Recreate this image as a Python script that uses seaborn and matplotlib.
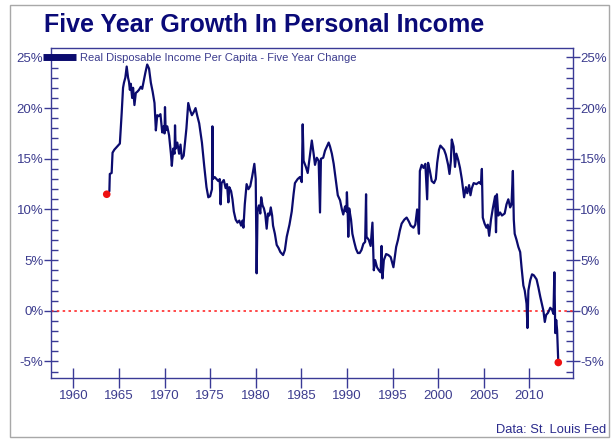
import numpy as np
import pandas as pd
from matplotlib import pyplot as plt
from matplotlib.patches import Rectangle
from matplotlib.lines import Line2D
from matplotlib.ticker import MultipleLocator, FuncFormatter
import seaborn as sns

# 数据：五年变化率（%）
years = [
    1963.66, 1963.95, 1964.0, 1964.2, 1964.3, 1964.5, 1964.8, 1965.1, 1965.3, 1965.45,
    1965.55, 1965.7, 1965.85, 1966.0, 1966.1, 1966.2, 1966.3, 1966.45, 1966.55, 1966.7,
    1966.85, 1967.0, 1967.2, 1967.4, 1967.55, 1967.7, 1967.9, 1968.1, 1968.3, 1968.5,
    1968.7, 1968.9, 1969.05, 1969.2, 1969.35, 1969.55, 1969.75, 1969.9, 1970.0, 1970.05,
    1970.12, 1970.3, 1970.5, 1970.7, 1970.8, 1970.95, 1971.1, 1971.15, 1971.22, 1971.4,
    1971.6, 1971.75, 1971.9, 1972.1, 1972.4, 1972.6, 1972.8, 1973.0, 1973.2, 1973.4,
    1973.6, 1973.8, 1974.1, 1974.35, 1974.6, 1974.8, 1975.0, 1975.2, 1975.25, 1975.3,
    1975.5, 1975.7, 1975.9, 1976.05, 1976.15, 1976.25, 1976.5, 1976.7, 1976.85, 1977.0,
    1977.1, 1977.3, 1977.45, 1977.6, 1977.8, 1978.0, 1978.2, 1978.4, 1978.55, 1978.65,
    1978.8, 1979.0, 1979.2, 1979.4, 1979.6, 1979.85, 1980.0, 1980.1, 1980.2, 1980.35,
    1980.5, 1980.6, 1980.75, 1980.9, 1981.05, 1981.2, 1981.35, 1981.5, 1981.65, 1981.8,
    1981.9, 1982.1, 1982.3, 1982.5, 1982.7, 1983.0, 1983.2, 1983.4, 1983.7, 1983.95,
    1984.15, 1984.3, 1984.6, 1984.85, 1985.05, 1985.15, 1985.25, 1985.5, 1985.7, 1985.9,
    1986.15, 1986.35, 1986.5, 1986.7, 1986.9, 1987.05, 1987.15, 1987.4, 1987.6, 1987.85,
    1988.0, 1988.15, 1988.35, 1988.55, 1988.8, 1989.0, 1989.25, 1989.45, 1989.6, 1989.8,
    1989.95, 1990.0, 1990.1, 1990.15, 1990.25, 1990.45, 1990.6, 1990.8, 1991.0, 1991.2,
    1991.4, 1991.6, 1991.8, 1992.0, 1992.1, 1992.15, 1992.4, 1992.6, 1992.8, 1992.95,
    1993.1, 1993.3, 1993.5, 1993.7, 1993.8, 1993.9, 1994.05, 1994.3, 1994.55, 1994.8,
    1995.1, 1995.4, 1995.6, 1995.8, 1996.0, 1996.3, 1996.55, 1996.8, 1997.0, 1997.3,
    1997.5, 1997.7, 1997.9, 1998.0, 1998.2, 1998.4, 1998.6, 1998.8, 1998.9, 1999.1,
    1999.3, 1999.55, 1999.75, 1999.9, 2000.1, 2000.25, 2000.45, 2000.65, 2000.85, 2001.1,
    2001.25, 2001.4, 2001.5, 2001.7, 2001.85, 2002.0, 2002.2, 2002.4, 2002.6, 2002.85,
    2003.05, 2003.2, 2003.4, 2003.55, 2003.7, 2003.9, 2004.2, 2004.5, 2004.7, 2004.8,
    2004.9, 2005.1, 2005.3, 2005.45, 2005.6, 2005.8, 2006.0, 2006.25, 2006.35, 2006.45,
    2006.6, 2006.8, 2007.0, 2007.3, 2007.5, 2007.7, 2007.9, 2008.05, 2008.2, 2008.3,
    2008.4, 2008.6, 2008.8, 2009.0, 2009.15, 2009.35, 2009.5, 2009.7, 2009.8, 2009.9,
    2010.1, 2010.3, 2010.5, 2010.8, 2011.0, 2011.2, 2011.4, 2011.55, 2011.7, 2011.85,
    2012.05, 2012.3, 2012.5, 2012.65, 2012.75, 2012.85, 2012.95, 2013.05, 2013.18,
]
values = [
    11.5, 11.8, 13.5, 13.6, 15.6, 15.9, 16.2, 16.5, 19.5, 22.0,
    22.5, 23.0, 24.1, 23.0, 22.6, 21.8, 22.4, 21.0, 22.0, 20.3,
    21.5, 21.6, 21.8, 22.1, 21.9, 22.6, 23.5, 24.3, 23.9, 22.5,
    21.6, 20.5, 17.8, 19.3, 19.2, 19.4, 17.6, 18.2, 17.5, 20.1,
    17.8, 18.2, 17.3, 15.5, 14.3, 16.0, 15.5, 18.3, 16.0, 16.6,
    15.5, 16.4, 15.0, 15.3, 18.0, 20.5, 19.8, 19.3, 19.6, 20.0,
    19.2, 18.5, 16.6, 14.3, 12.2, 11.2, 11.3, 12.0, 18.2, 13.0,
    13.2, 13.0, 12.8, 13.0, 10.5, 12.6, 12.9, 12.1, 12.5, 10.7,
    12.2, 11.8, 11.0, 9.8, 9.0, 8.7, 8.9, 8.4, 8.9, 8.2,
    10.5, 12.5, 12.0, 12.3, 13.2, 14.5, 13.0, 3.7, 9.9, 10.4,
    9.6, 11.2, 10.4, 10.1, 9.5, 8.1, 9.6, 9.4, 10.2, 9.4,
    8.4, 7.6, 6.5, 6.2, 5.8, 5.5, 6.0, 7.3, 8.5, 9.8,
    11.5, 12.6, 13.0, 13.2, 12.7, 18.4, 14.8, 14.2, 13.6, 15.0,
    16.8, 15.5, 14.4, 15.1, 14.8, 9.7, 15.0, 15.1, 15.8, 16.3,
    16.6, 16.2, 15.5, 14.5, 12.8, 11.4, 10.9, 10.0, 9.5, 10.3,
    9.8, 11.7, 9.2, 7.3, 10.1, 9.0, 7.6, 6.8, 6.1, 5.7,
    5.7, 6.0, 6.6, 6.8, 11.5, 7.3, 7.0, 6.4, 8.7, 4.0,
    5.0, 4.3, 4.0, 3.8, 6.4, 3.2, 5.0, 5.6, 5.5, 5.3,
    4.3, 6.3, 7.0, 7.9, 8.6, 9.0, 9.2, 8.8, 8.4, 8.2,
    8.5, 10.0, 7.6, 13.8, 14.4, 14.1, 14.5, 11.0, 14.6, 13.8,
    12.8, 12.6, 13.0, 14.6, 15.9, 16.3, 16.1, 15.9, 15.4, 14.4,
    13.5, 14.8, 16.9, 16.2, 14.2, 15.5, 14.9, 14.1, 13.0, 11.2,
    12.2, 11.6, 12.4, 11.4, 12.1, 12.6, 12.5, 12.7, 12.5, 14.0,
    9.2, 8.6, 8.2, 8.5, 7.4, 9.0, 10.1, 11.3, 7.75, 11.5,
    9.4, 9.7, 9.4, 9.6, 10.5, 11.0, 10.2, 10.5, 13.8, 9.0,
    7.6, 7.0, 6.3, 5.8, 4.3, 2.5, 2.0, 0.7, -1.7, 2.0,
    3.0, 3.6, 3.5, 3.1, 2.3, 1.4, 0.6, 0.0, -1.1, -0.4,
    -0.2, 0.3, 0.1, -0.3, 3.8, -2.2, -0.9, -1.9, -5.1,
]

x_ticks = [1960, 1965, 1970, 1975, 1980, 1985, 1990, 1995, 2000, 2005, 2010]
y_ticks = [-5, 0, 5, 10, 15, 20, 25]

navy = '#0b0b6e'
axis_color = '#3a3a96'
label_color = '#3c3c8e'

df = pd.DataFrame({'year': years, 'value': values})

sns.set_style('white')
plt.rcParams['font.family'] = ['Liberation Sans', 'DejaVu Sans']

fig = plt.figure(figsize=(6.16, 4.43), dpi=100)
ax = fig.add_axes([0.0828, 0.1474, 0.8469, 0.7436])

# 零线（红色点线）
ax.axhline(0, color='#ff2a2a', linestyle=(0, (1.5, 2.0)), linewidth=1.2, zorder=1)

# 主曲线
sns.lineplot(data=df, x='year', y='value', color=navy, linewidth=1.6, ax=ax, legend=False, zorder=2)

# 起止红点
ends = df.iloc[[0, -1]]
sns.scatterplot(data=ends, x='year', y='value', color='#ee1111', s=30, edgecolor='none', ax=ax, zorder=3, legend=False)

ax.set_xlim(1957.55, 2014.76)
ax.set_ylim(-6.6, 25.9)
ax.set_xticks(x_ticks)
ax.set_yticks(y_ticks)
ax.yaxis.set_minor_locator(MultipleLocator(1))
ax.yaxis.set_major_formatter(FuncFormatter(lambda v, _: f'{v:.0f}%'))
ax.set_xlabel('')
ax.set_ylabel('')

for side in ['left', 'right', 'top', 'bottom']:
    ax.spines[side].set_color(axis_color)
    ax.spines[side].set_linewidth(1.0)

ax.tick_params(axis='y', which='major', direction='inout', length=10, width=1, color=axis_color,
               labelcolor=label_color, labelsize=9.5, left=True, right=True, labelleft=True, labelright=True, pad=0.5)
ax.tick_params(axis='y', which='minor', direction='in', length=5, width=1, color=axis_color, left=True, right=True)
ax.tick_params(axis='x', which='major', direction='inout', length=15, width=1, color=axis_color,
               labelcolor=label_color, labelsize=9.5, bottom=True, pad=1)

# 图例
handle = Line2D([], [], color=navy, linewidth=5, solid_capstyle='butt')
ax.legend([handle], ['Real Disposable Income Per Capita - Five Year Change'],
          loc='center left', bbox_to_anchor=(-0.0153, 0.972), frameon=False,
          fontsize=8, handlelength=3.0, handletextpad=0.3, borderpad=0, borderaxespad=0,
          labelcolor=label_color)

# 标题和数据来源
fig.text(0.4286, 0.944, 'Five Year Growth In Personal Income', ha='center', va='center',
         fontsize=18, fontweight='bold', color='#0a0a78')
fig.text(0.984, 0.03, 'Data: St. Louis Fed', ha='right', va='center', fontsize=9.3, color='#2a2a8c')

# 外框
fig.patches.append(Rectangle((10 / 616, 1 - 437 / 443), 599 / 616, 432 / 443, transform=fig.transFigure,
                             fill=False, edgecolor='#a8a8a8', linewidth=1))

plt.savefig('out.png', dpi=100)
plt.close()
